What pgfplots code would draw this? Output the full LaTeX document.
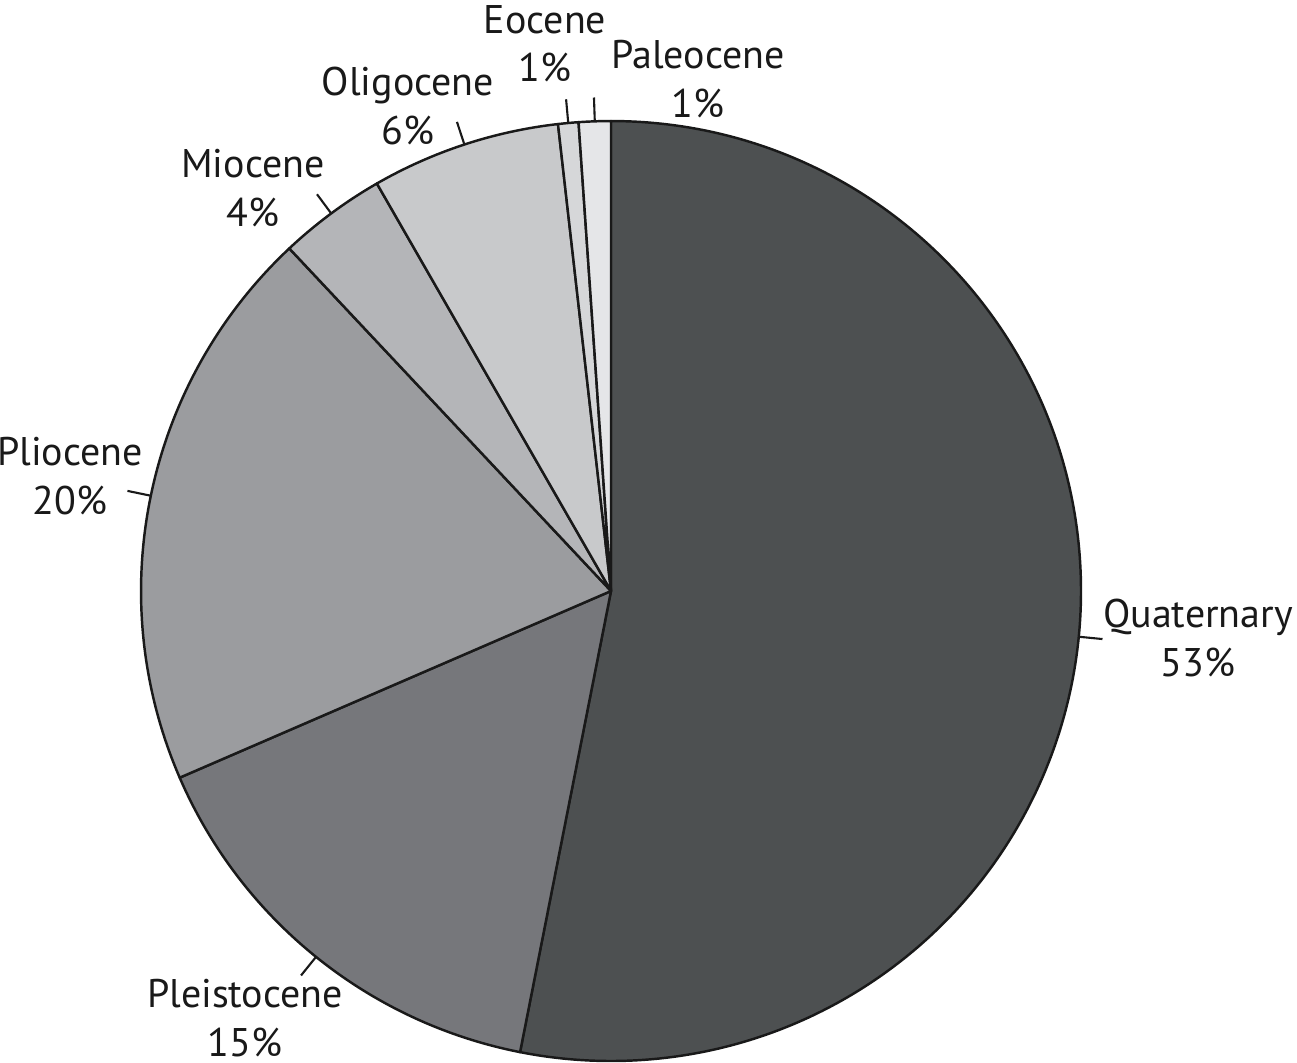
\documentclass[border=0pt]{standalone}
\usepackage{pgfplots}
\pgfplotsset{compat=1.18}
\usepackage{fontspec}
\setmainfont{PT Sans}

\definecolor{cQua}{HTML}{4D5051}
\definecolor{cPle}{HTML}{76777B}
\definecolor{cPli}{HTML}{9B9C9F}
\definecolor{cMio}{HTML}{B4B5B8}
\definecolor{cOli}{HTML}{C8C9CB}
\definecolor{cEoc}{HTML}{D6D7D9}
\definecolor{cPal}{HTML}{E5E6E8}

% shares (%), clockwise from 12 o'clock
\def\pQua{53.1}
\def\pPle{15.4}
\def\pPli{19.5}
\def\pMio{3.7}
\def\pOli{6.5}
\def\pEoc{0.7}
\def\pPal{1.1}

% radius: 470 px of a 1297 px wide picture that is 13 cm wide
\pgfmathsetmacro{\R}{470/1297*369.88}
\pgfmathsetmacro{\aA}{90}
\pgfmathsetmacro{\aB}{\aA-3.6*\pQua}
\pgfmathsetmacro{\aC}{\aB-3.6*\pPle}
\pgfmathsetmacro{\aD}{\aC-3.6*\pPli}
\pgfmathsetmacro{\aE}{\aD-3.6*\pMio}
\pgfmathsetmacro{\aF}{\aE-3.6*\pOli}
\pgfmathsetmacro{\aG}{\aF-3.6*\pEoc}
\pgfmathsetmacro{\aH}{\aG-3.6*\pPal}

\newcommand{\slice}[3]{%
  \filldraw[fill=#3, draw=black!90, line width=0.7pt, line join=round]
    (axis cs:611,471) -- ++(#1:\R pt) arc[start angle=#1, end angle=#2, radius=\R pt] -- cycle;
  \draw[black!90, line width=0.6pt] (axis cs:611,471) ++({(#1+#2)/2}:\R pt) -- ++({(#1+#2)/2}:6.8pt);
}

\begin{document}
\begin{tikzpicture}
\begin{axis}[
    name=ax,
    scale only axis,
    width=13cm, height=10.645cm,
    xmin=0, xmax=1297, ymin=0, ymax=1062,
    hide axis, clip=false,
]
\slice{\aA}{\aB}{cQua}
\slice{\aB}{\aC}{cPle}
\slice{\aC}{\aD}{cPli}
\slice{\aD}{\aE}{cMio}
\slice{\aE}{\aF}{cOli}
\slice{\aF}{\aG}{cEoc}
\slice{\aG}{\aH}{cPal}
\begin{scope}[every node/.style={align=center, font=\fontsize{11.4}{13.8}\selectfont, text=black!90}]
\node at (axis cs:1198,424) {Quaternary\\53\%};
\node at (axis cs:245,44) {Pleistocene\\15\%};
\node at (axis cs:70,586) {Pliocene\\20\%};
\node at (axis cs:253,874) {Miocene\\4\%};
\node at (axis cs:408,956) {Oligocene\\6\%};
\node at (axis cs:545,1018) {Eocene\\1\%};
\node at (axis cs:698,983) {Paleocene\\1\%};
\end{scope}
\end{axis}
\pgfresetboundingbox
\path (ax.south west) rectangle (ax.north east);
\end{tikzpicture}
\end{document}
